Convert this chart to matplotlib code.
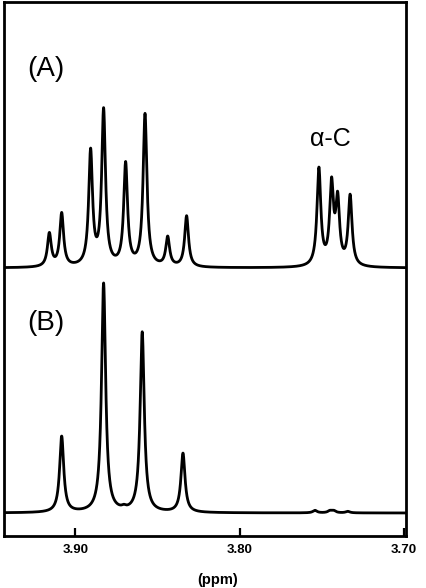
import numpy as np
import matplotlib.pyplot as plt

plt.rcParams['font.family'] = ['Liberation Sans', 'DejaVu Sans']

# peak positions (ppm) and heights
peaks_a = [3.9158, 3.9083, 3.8907, 3.8828, 3.8694, 3.8576, 3.8438, 3.8323,
           3.7518, 3.7441, 3.7404, 3.7328]
heights_a = [33, 53, 114, 155, 102, 152, 29, 51, 97, 79, 63, 70]

peaks_b = [3.9083, 3.8828, 3.8705, 3.8593, 3.8345, 3.7542, 3.7451, 3.7427, 3.7342]
heights_b = [76, 229, 2, 180, 59, 2.5, 2, 2, 1.5]

width_a = 0.0014
width_b = 0.0015

ppm = np.linspace(3.95, 3.69, 6000)


def spectrum(pos, amp, w):
    y = np.zeros_like(ppm)
    for p, h in zip(pos, amp):
        y += h * w**2 / ((ppm - p)**2 + w**2)
    return y


spec_a = spectrum(peaks_a, heights_a, width_a)
spec_b = spectrum(peaks_b, heights_b, width_b)

fig = plt.figure(figsize=(4.26, 5.88), dpi=100)
ax = fig.add_axes([3.5/426, 1 - 536/588, 402.5/426, 534/588])

ax.plot(ppm, spec_a + 268, color='black', lw=2.0)
ax.plot(ppm, spec_b + 23, color='black', lw=2.0)

ax.set_xlim(3.9437, 3.6988)
ax.set_ylim(0, 534)
ax.set_yticks([])
ax.set_xticks([3.90, 3.80, 3.70])
ax.set_xticklabels(['3.90', '3.80', '3.70'], fontweight='bold', fontsize=9.5)
ax.tick_params(axis='x', direction='in', length=6, width=1.6, pad=6)
for s in ax.spines.values():
    s.set_linewidth(2.0)

ax.text(0.058, 0.875, '(A)', transform=ax.transAxes, fontsize=20, va='center')
ax.text(0.762, 0.744, 'α-C', transform=ax.transAxes, fontsize=18, va='center')
ax.text(0.060, 0.398, '(B)', transform=ax.transAxes, fontsize=20, va='center')

fig.text(218 / 426, 1 - 580/588, '(ppm)', ha='center', va='center',
         fontsize=10.5, fontweight='bold')

fig.savefig('out.png', dpi=100)
